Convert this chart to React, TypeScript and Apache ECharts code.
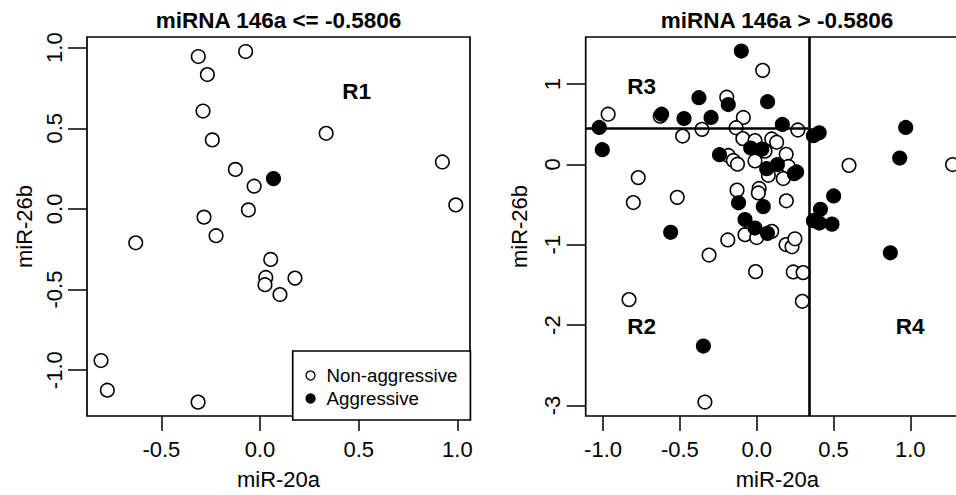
import React, { useEffect, useRef } from "react";
import * as echarts from "echarts";

// ---------- data ----------
const leftTitle = "miRNA 146a <= -0.5806";
const rightTitle = "miRNA 146a > -0.5806";
const xName = "miR-20a";
const yName = "miR-26b";
const legendNames = ["Non-aggressive", "Aggressive"];

const leftOpen: number[][] = [
  [-0.313, 0.945], [-0.073, 0.976], [-0.267, 0.833], [-0.289, 0.607], [-0.242, 0.428],
  [0.335, 0.469], [0.924, 0.291], [0.992, 0.025], [-0.125, 0.245], [-0.03, 0.141],
  [-0.059, -0.006], [-0.284, -0.051], [-0.223, -0.166], [-0.63, -0.21], [0.054, -0.313],
  [0.029, -0.425], [0.025, -0.47], [0.101, -0.531], [0.177, -0.429], [-0.806, -0.94],
  [-0.774, -1.124], [-0.314, -1.198],
];
const leftFilled: number[][] = [[0.068, 0.188]];

const rightOpen: number[][] = [
  [0.039, 1.17], [-0.195, 0.836], [-0.967, 0.624], [-0.628, 0.6], [-0.087, 0.584],
  [-0.356, 0.436], [-0.134, 0.456], [-0.482, 0.353], [0.268, 0.428], [-0.09, 0.321],
  [-0.011, 0.296], [0.098, 0.317], [0.13, 0.276], [0.054, 0.165], [-0.185, 0.111],
  [-0.152, 0.049], [-0.125, 0.003], [-0.011, 0.043], [0.192, 0.125], [0.206, -0.025],
  [0.076, -0.135], [0.173, -0.176], [0.601, -0.012], [1.275, -0.002], [-0.771, -0.164],
  [-0.803, -0.475], [-0.517, -0.41], [-0.128, -0.32], [0.016, -0.299], [0.011, -0.355],
  [0.193, -0.453], [0.098, -0.833], [-0.076, -0.874], [0.0, -0.91], [-0.188, -0.94],
  [0.191, -0.997], [0.23, -1.025], [0.249, -0.925], [-0.31, -1.128], [-0.007, -1.334],
  [0.238, -1.338], [0.302, -1.346], [0.297, -1.703], [-0.831, -1.682], [-0.337, -2.956],
];
const rightFilled: number[][] = [
  [-0.1, 1.41], [-0.376, 0.83], [0.071, 0.78], [-0.185, 0.745], [-0.619, 0.624],
  [-0.473, 0.571], [-0.297, 0.584], [-1.025, 0.46], [-1.005, 0.183], [0.167, 0.497],
  [0.369, 0.357], [0.407, 0.393], [0.97, 0.46], [0.931, 0.079], [-0.242, 0.121],
  [-0.039, 0.204], [0.033, 0.19], [0.065, -0.053], [0.135, -0.002], [0.245, -0.115],
  [0.26, -0.094], [-0.118, -0.478], [0.043, -0.525], [0.501, -0.392], [0.415, -0.558],
  [0.369, -0.7], [0.408, -0.73], [0.49, -0.743], [-0.076, -0.686], [-0.011, -0.792],
  [0.07, -0.858], [-0.56, -0.845], [0.87, -1.1], [-0.347, -2.26],
];

const leftRegions = [{ name: "R1", value: [0.49, 0.728] }];
const rightRegions = [
  { name: "R3", value: [-0.749, 0.969] },
  { name: "R2", value: [-0.749, -2.02] },
  { name: "R4", value: [0.998, -2.02] },
];
const splitX = 0.336;
const splitY = 0.452;

const leftXTicks = [-0.5, 0, 0.5, 1.0];
const leftYTicks = [-1.0, -0.5, 0, 0.5, 1.0];
const rightXTicks = [-1.0, -0.5, 0, 0.5, 1.0];
const rightYTicks = [-3, -2, -1, 0, 1];

const leftXRange = [-0.877, 1.064];
const leftYRange = [-1.284, 1.066];
const rightXRange = [-1.113, 1.382];
const rightYRange = [-3.13, 1.585];

// ---------- styles ----------
const FONT = "'Liberation Sans', Arial, sans-serif";
const LABEL_SIZE = 22;

function xAxisDef(grid: number, range: number[], ticks: number[], digits: number) {
  return {
    type: "value",
    gridIndex: grid,
    min: range[0],
    max: range[1],
    name: xName,
    nameLocation: "middle",
    nameGap: 52,
    nameTextStyle: { fontSize: LABEL_SIZE, color: "#000", fontFamily: FONT },
    axisLine: { show: false, onZero: false },
    axisTick: { show: true, customValues: ticks, length: 15, lineStyle: { color: "#000", width: 1.5 } },
    axisLabel: {
      customValues: ticks,
      formatter: (v: number) => v.toFixed(digits),
      fontSize: LABEL_SIZE,
      color: "#000",
      fontFamily: FONT,
      margin: 22.5,
    },
    splitLine: { show: false },
  };
}

function yAxisDef(grid: number, range: number[], ticks: number[], digits: number, gap: number) {
  return {
    type: "value",
    gridIndex: grid,
    min: range[0],
    max: range[1],
    name: yName,
    nameLocation: "middle",
    nameGap: gap,
    nameTextStyle: { fontSize: LABEL_SIZE, color: "#000", fontFamily: FONT },
    axisLine: { show: false, onZero: false },
    axisTick: { show: true, customValues: ticks, length: 19, lineStyle: { color: "#000", width: 1.5 } },
    axisLabel: {
      customValues: ticks,
      formatter: (v: number) => v.toFixed(digits),
      rotate: 90,
      fontSize: LABEL_SIZE,
      color: "#000",
      fontFamily: FONT,
      margin: 22,
    },
    splitLine: { show: false },
  };
}

const openStyle = { color: "#fff", borderColor: "#000", borderWidth: 1.6, opacity: 1 };
const filledStyle = { color: "#000", borderColor: "#000", borderWidth: 1.6, opacity: 1 };
const SYM = 13.5;

function regionSeries(idx: number, data: any[]) {
  return {
    type: "scatter",
    name: "regions" + idx,
    xAxisIndex: idx,
    yAxisIndex: idx,
    data,
    symbolSize: 0,
    silent: true,
    itemStyle: { opacity: 1 },
    label: {
      show: true,
      position: "inside",
      formatter: (p: any) => p.name,
      fontSize: 22.5,
      fontWeight: "bold",
      color: "#000",
      opacity: 1,
      fontFamily: FONT,
    },
  };
}

export default function App() {
  const ref = useRef<HTMLDivElement>(null);
  useEffect(() => {
    if (!ref.current) return;
    const chart = echarts.init(ref.current, null, { renderer: "svg" });
    chart.setOption({
      animation: false,
      backgroundColor: "#fff",
      textStyle: { fontFamily: FONT },
      grid: [
        { left: 87, top: 37, width: 383, height: 383, show: true, borderColor: "#000", borderWidth: 1.7, backgroundColor: "transparent" },
        { left: 585.7, top: 37, width: 383.3, height: 383, show: true, borderColor: "#000", borderWidth: 1.7, backgroundColor: "transparent" },
      ],
      xAxis: [xAxisDef(0, leftXRange, leftXTicks, 1), xAxisDef(1, rightXRange, rightXTicks, 1)],
      yAxis: [yAxisDef(0, leftYRange, leftYTicks, 1, 52), yAxisDef(1, rightYRange, rightYTicks, 0, 55)],
      legend: {
        orient: "vertical",
        left: 292.7,
        top: 351,
        padding: [15, 13, 12, 12.7],
        itemGap: 4,
        itemWidth: 22,
        itemHeight: 9,
        symbolKeepAspect: true,
        borderColor: "#000",
        borderWidth: 1.7,
        backgroundColor: "#fff",
        selectedMode: false,
        textStyle: { fontSize: 18.7, color: "#000", fontFamily: FONT },
        data: [
          { name: legendNames[0], icon: "circle", itemStyle: { color: "#fff", borderColor: "#000", borderWidth: 1.3 } },
          { name: legendNames[1], icon: "circle", itemStyle: { color: "#000", borderColor: "#000", borderWidth: 1.3 } },
        ],
      },
      graphic: [
        { type: "text", x: 278.5, y: 20.5, style: { text: leftTitle, fontSize: 22.5, fontWeight: "bold", fill: "#000", fontFamily: FONT, textAlign: "center", textVerticalAlign: "middle" } },
        { type: "text", x: 777, y: 20.5, style: { text: rightTitle, fontSize: 22.5, fontWeight: "bold", fill: "#000", fontFamily: FONT, textAlign: "center", textVerticalAlign: "middle" } },
      ],
      series: [
        { type: "scatter", name: legendNames[0], xAxisIndex: 0, yAxisIndex: 0, data: leftOpen, symbol: "circle", symbolSize: SYM, itemStyle: openStyle },
        { type: "scatter", name: legendNames[1], xAxisIndex: 0, yAxisIndex: 0, data: leftFilled, symbol: "circle", symbolSize: SYM, itemStyle: filledStyle },
        { type: "scatter", name: legendNames[0], xAxisIndex: 1, yAxisIndex: 1, data: rightOpen, symbol: "circle", symbolSize: SYM, itemStyle: openStyle },
        {
          type: "scatter",
          name: legendNames[1],
          xAxisIndex: 1,
          yAxisIndex: 1,
          data: rightFilled,
          symbol: "circle",
          symbolSize: SYM,
          itemStyle: filledStyle,
          markLine: {
            silent: true,
            symbol: ["none", "none"],
            label: { show: false },
            lineStyle: { color: "#000", width: 2.6, type: "solid", opacity: 1 },
            data: [
              { xAxis: splitX },
              [{ coord: [rightXRange[0], splitY] }, { coord: [splitX, splitY] }],
            ],
          },
        },
        regionSeries(0, leftRegions),
        regionSeries(1, rightRegions),
      ],
    });
    return () => chart.dispose();
  }, []);
  return <div ref={ref} style={{ position: "fixed", left: 0, top: 0, width: 980, height: 495, background: "#fff" }} />;
}
